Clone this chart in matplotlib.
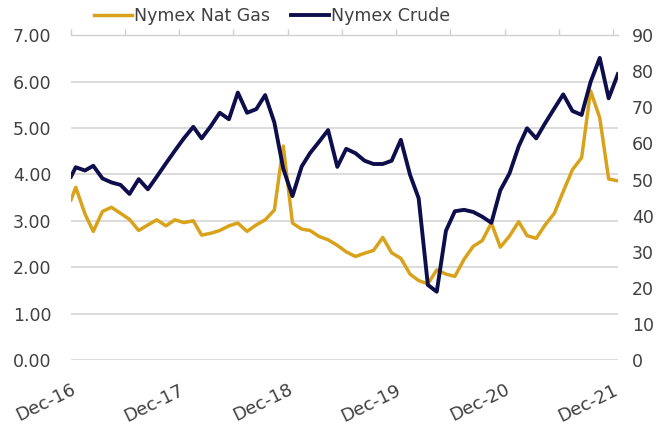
import matplotlib
matplotlib.use("Agg")
import matplotlib.pyplot as plt
import pandas as pd

# month-end settles, first point is mid-Dec-16
dates = ["2016-12-15"] + [d.strftime("%Y-%m-%d") for d in pd.date_range("2016-12-31", "2021-12-31", freq="ME")]

nat_gas = [3.45, 3.72, 3.15, 2.77, 3.20, 3.29, 3.16, 3.03, 2.79, 2.91, 3.02,
           2.89, 3.02, 2.96, 3.00, 2.69, 2.73, 2.79, 2.89, 2.95, 2.77, 2.91,
           3.02, 3.23, 4.61, 2.95, 2.82, 2.79, 2.66, 2.59, 2.47, 2.33, 2.23,
           2.30, 2.36, 2.64, 2.31, 2.19, 1.85, 1.71, 1.64, 1.94, 1.85, 1.80,
           2.17, 2.45, 2.57, 2.95, 2.43, 2.67, 2.98, 2.68, 2.62, 2.91, 3.16,
           3.63, 4.10, 4.36, 5.80, 5.22, 3.90, 3.86]

crude = [50.8, 53.4, 52.5, 53.8, 50.3, 49.2, 48.5, 46.0, 50.1, 47.3, 50.8,
         54.5, 58.0, 61.5, 64.6, 61.4, 64.8, 68.5, 66.7, 74.1, 68.5, 69.5,
         73.4, 65.8, 53.0, 45.4, 53.6, 57.3, 60.5, 63.7, 53.5, 58.5, 57.3,
         55.2, 54.3, 54.3, 55.2, 61.0, 51.3, 44.8, 20.8, 18.9, 35.8, 41.2,
         41.6, 41.0, 39.7, 38.0, 47.0, 51.7, 59.2, 64.2, 61.4, 65.6, 69.7,
         73.6, 69.0, 67.9, 77.0, 83.7, 72.5, 79.2]

x_labels = ["Dec-16", "", "Dec-17", "", "Dec-18", "", "Dec-19", "", "Dec-20", "", "Dec-21"]
gas_ticks = [0, 1, 2, 3, 4, 5, 6, 7]
crude_ticks = [0, 10, 20, 30, 40, 50, 60, 70, 80, 90]

gold = "#D9A21B"
navy = "#0E0E4C"
txt = "#404040"

plt.rcParams["font.family"] = ["DejaVu Sans"]

x = pd.to_datetime(dates)

fig = plt.figure(figsize=(6.71, 4.29), dpi=100)
ax = fig.add_axes([0.1058, 0.161, 0.815, 0.757])
ax2 = ax.twinx()

l1, = ax.plot(x, nat_gas, color=gold, lw=2.5, solid_joinstyle="round", label="Nymex Nat Gas")
l2, = ax2.plot(x, crude, color=navy, lw=2.8, solid_joinstyle="round", label="Nymex Crude")

ax.set_xlim(x[0], x[-1])
ax.set_ylim(0, 7)
ax2.set_ylim(0, 90)
ax.set_yticks(gas_ticks)
ax.set_yticklabels(["%.2f" % v for v in gas_ticks])
ax2.set_yticks(crude_ticks)
ax.grid(axis="y", color="#D9D9D9", lw=1.3)
ax.set_axisbelow(True)

for a in (ax, ax2):
    for s in a.spines.values():
        s.set_visible(False)
ax.spines["top"].set_visible(True)
ax.spines["top"].set_color("#D0D0D0")
ax.spines["top"].set_linewidth(1.0)

# ticks every 6 months on the top line, labels every 12 months at the bottom
tick_pos = [x[0] + pd.DateOffset(months=6 * i) for i in range(len(x_labels))]
ax.set_xticks(tick_pos)
ax.set_xticklabels(x_labels)
ax.tick_params(axis="x", bottom=False, top=True, labelbottom=True, labeltop=False,
               direction="out", length=4, color="#D0D0D0", width=1.0,
               labelsize=13, labelcolor=txt, pad=11)
for lab in ax.get_xticklabels():
    lab.set_rotation(26)
    lab.set_ha("right")
    lab.set_rotation_mode("anchor")

ax.tick_params(axis="y", length=0, labelsize=12.5, labelcolor=txt, pad=14)
ax2.tick_params(axis="y", length=0, labelsize=12.5, labelcolor=txt, pad=10)

fig.legend(handles=[l1, l2], loc="center", bbox_to_anchor=(0.405, 0.962), ncol=2,
           frameon=False, fontsize=12.5, handlelength=2.2, handletextpad=0.1,
           columnspacing=1.2, labelcolor=txt)

fig.savefig("out.png", dpi=100)
